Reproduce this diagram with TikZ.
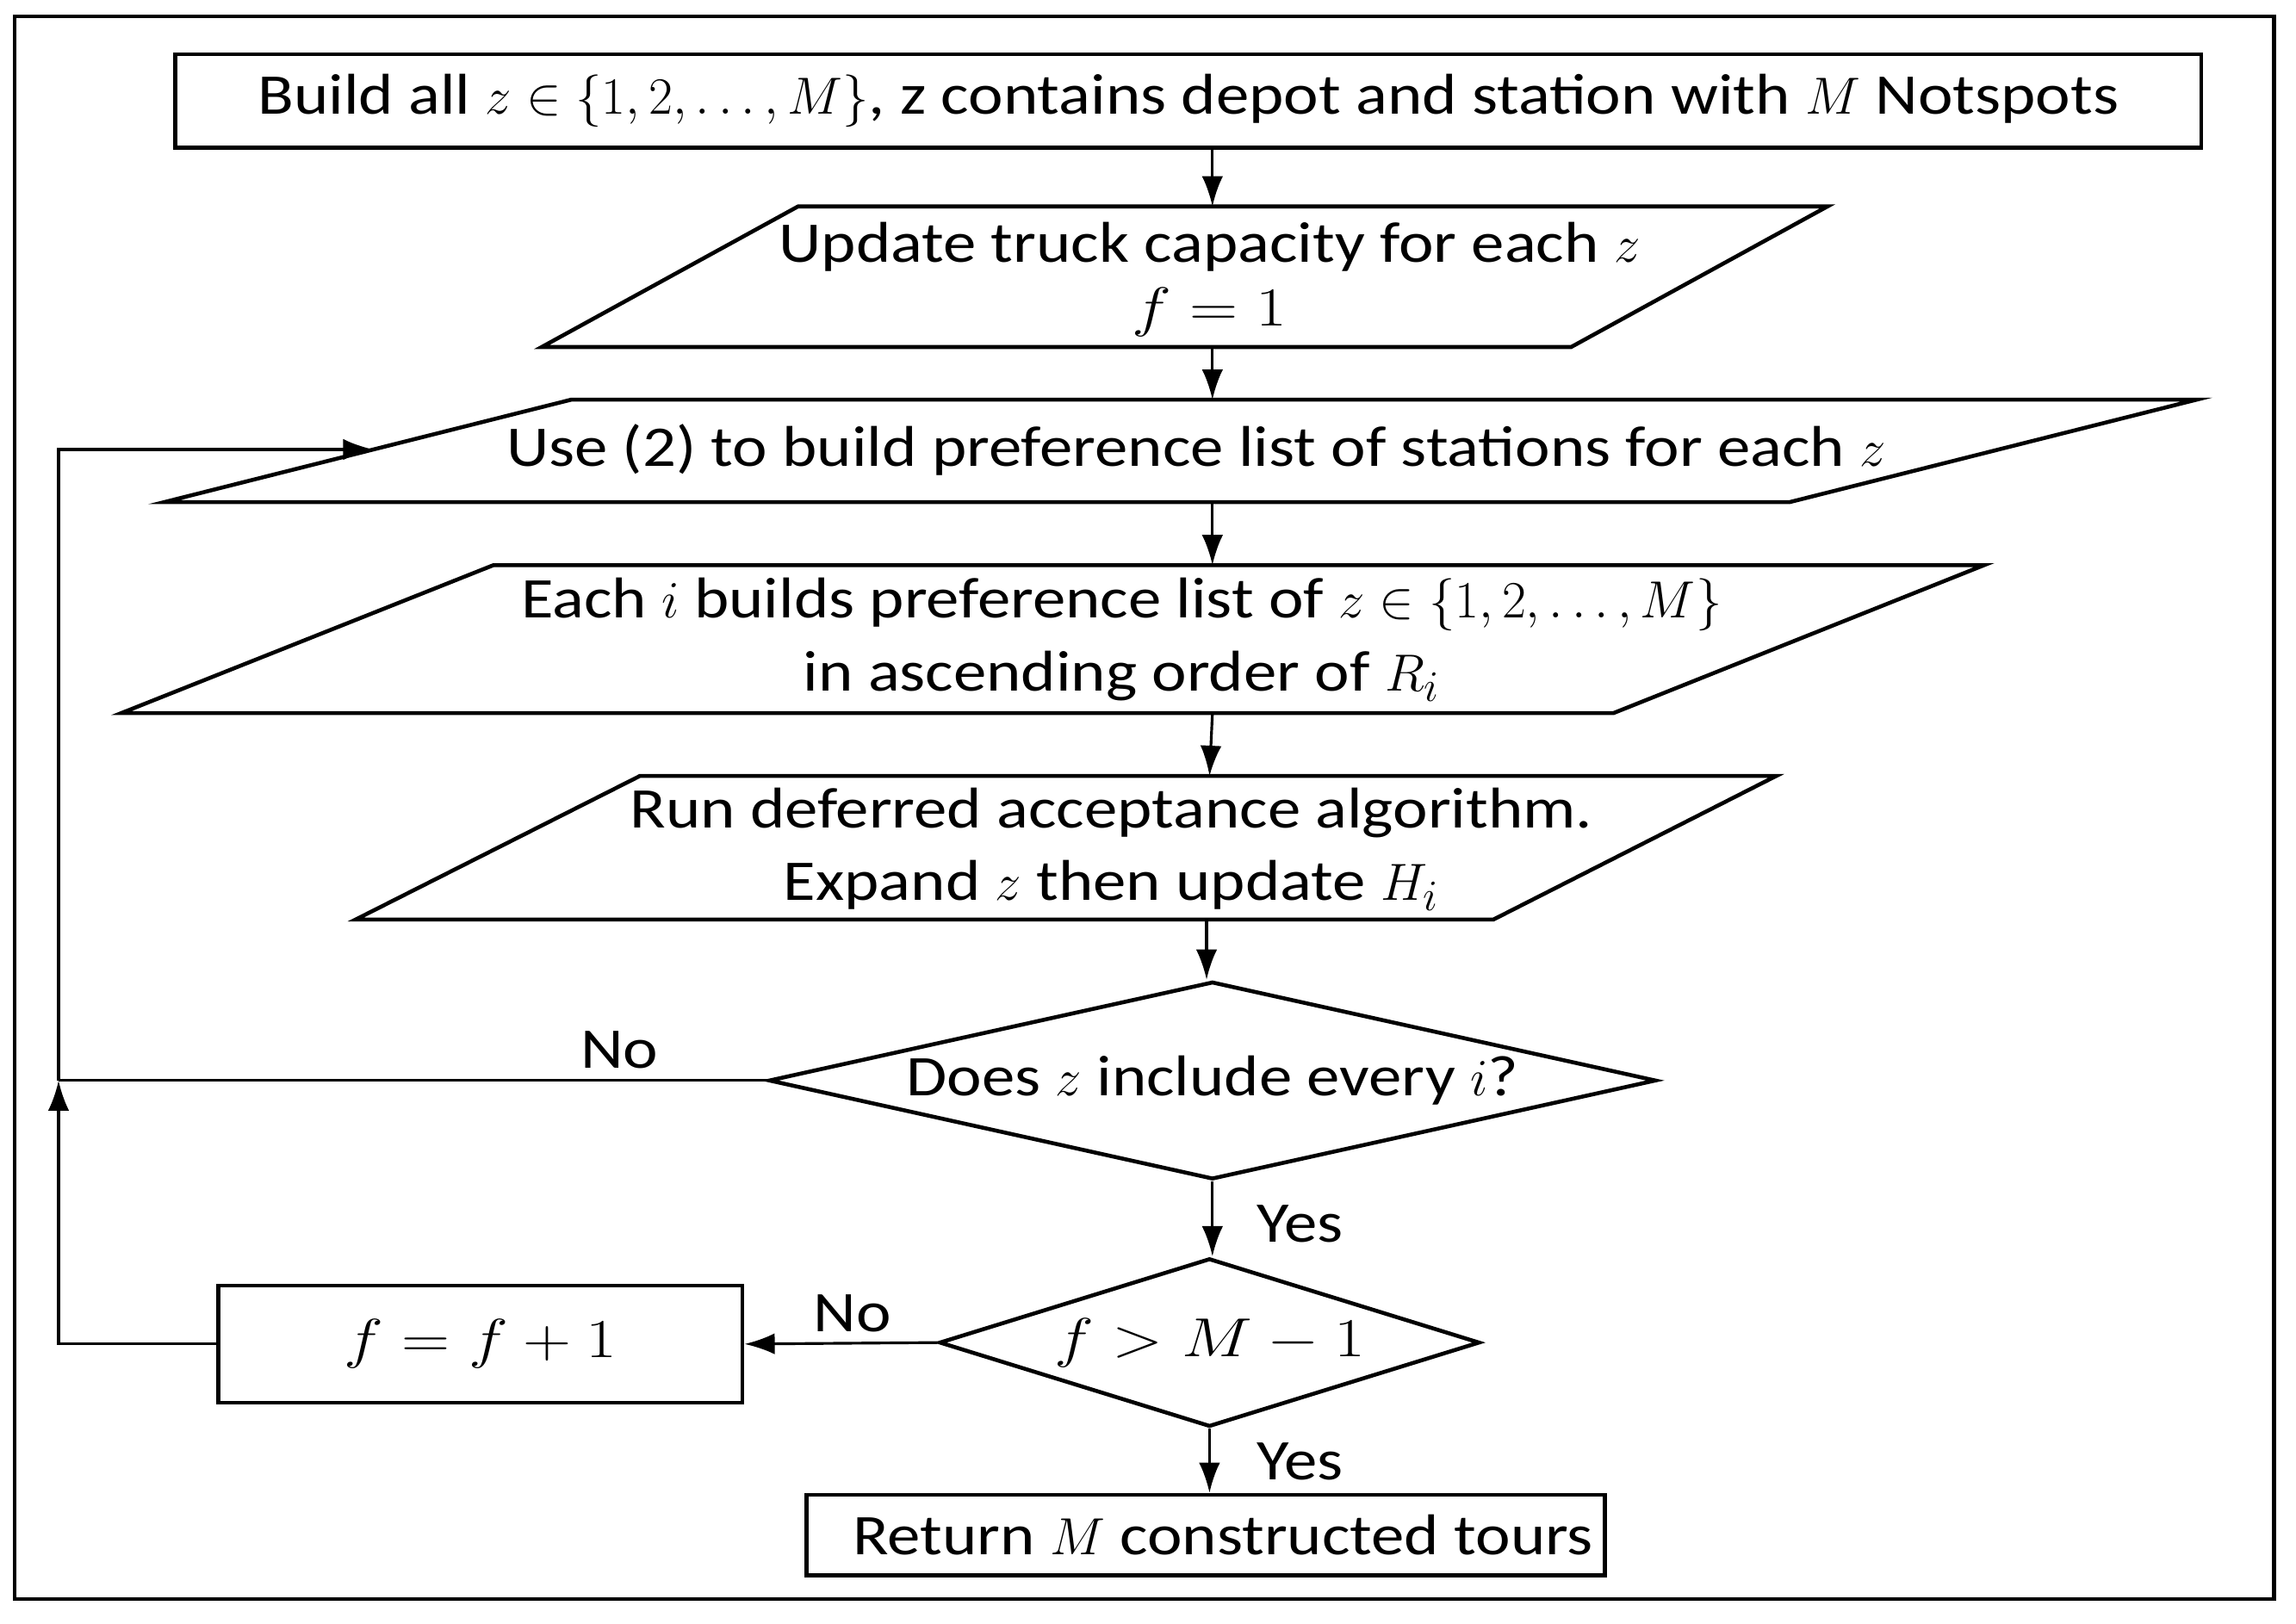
\documentclass[tikz,border=0pt]{standalone}
\usepackage{fontspec}
\usepackage{graphicx}
\setmainfont[FakeStretch=1.15]{Carlito}
\usetikzlibrary{arrows.meta,shapes.geometric,calc}
\newcommand\mwide[1]{\scalebox{1.28}[1.05]{#1}}
\begin{document}
\begin{tikzpicture}[x=0.017003cm,y=-0.017003cm,
  outline/.style={draw=black,line width=1.3pt},
  txt/.style={font=\fontsize{19}{24}\selectfont,align=center,inner sep=0pt},
  lbl/.style={font=\fontsize{19}{24}\selectfont,inner sep=0pt},
  conn/.style={line width=0.9pt},
  arr/.style={line width=0.9pt,-{Latex[length=10pt,width=7pt]}}]
\useasboundingbox (0,0) rectangle (1568,1109);
\draw[line width=1.2pt] (10,11) rectangle (1553,1092);

% box 1
\node[outline,txt,minimum width=23.515cm,minimum height=1.088cm] (b1) at (811.5,69)
  {Build all $z\in\{1,2,\dots,M\}$, z contains depot and station with $M$ Notspots};

% parallelogram 2
\draw[outline] (370,237) -- (545,141) -- (1248,141) -- (1073,237) -- cycle;
\node[txt] (p2) at (826,191) {Update truck capacity for each $z$\\[-3pt]\mwide{$f=1$}};
\coordinate (p2t) at (828,141);
\coordinate (p2b) at (828,237);

% parallelogram 3
\draw[outline] (112,343) -- (390,273) -- (1500,273) -- (1222,343) -- cycle;
\node[txt] (p3) at (817,307) {Use (2) to build preference list of stations for each $z$};
\coordinate (p3t) at (828,273);
\coordinate (p3b) at (828,343);
\coordinate (p3l) at (255,307);

% parallelogram 4
\draw[outline] (83,487) -- (337,386) -- (1355,386) -- (1102,487) -- cycle;
\node[txt] (p4) at (766,437) {Each $i$ builds preference list of $z\in\{1,2,\dots,M\}$\\in ascending order of $R_i$};
\coordinate (p4t) at (828,386);
\coordinate (p4b) at (828,487);

% parallelogram 5
\draw[outline] (243,628) -- (437,530) -- (1213,530) -- (1020,628) -- cycle;
\node[txt] (p5) at (759,580) {Run deferred acceptance algorithm.\\Expand $z$ then update $H_i$};
\coordinate (p5t) at (826,530);
\coordinate (p5b) at (824,628);

% decisions
\node[outline,txt,diamond,aspect=4.49,minimum width=10.30cm,minimum height=2.295cm] (d1) at (828,738)
  {Does $z$ include every $i$?};
\node[outline,txt,diamond,aspect=3.2,minimum width=6.274cm,minimum height=1.955cm] (d2) at (826,917)
  {\mwide{$f>M-1$}};

% boxes
\node[outline,txt,minimum width=6.087cm,minimum height=1.36cm] (inc) at (328,918) {\mwide{$f=f+1$}};
\node[outline,txt,minimum width=9.267cm,minimum height=0.935cm] (ret) at (823.5,1048.5)
  {\hspace*{0.4cm}Return $M$ constructed tours};

\coordinate (jn) at (40,738);

% connectors
\draw[arr] (b1.south -| p2t) -- (p2t);
\draw[arr] (p2b) -- (p3t);
\draw[arr] (p3b) -- (p4t);
\draw[arr] (p4b) -- (p5t);
\draw[arr] (p5b) -- (p5b |- d1.north);
\draw[arr] (d1.south) -- (d1.south |- d2.north);
\draw[arr] (d2.south) -- (d2.south |- ret.north);
\draw[arr] (d2.west) -- (inc.east);
\draw[conn] (d1.west) -- (jn);
\draw[arr] (inc.west) -| (jn);
\draw[arr] (jn) |- (p3l);

% labels
\node[lbl] (l1) at (423,717) {No};
\node[lbl] (l2) at (888,836) {Yes};
\node[lbl] (l3) at (582,897) {No};
\node[lbl] (l4) at (888,998) {Yes};
\end{tikzpicture}
\end{document}
